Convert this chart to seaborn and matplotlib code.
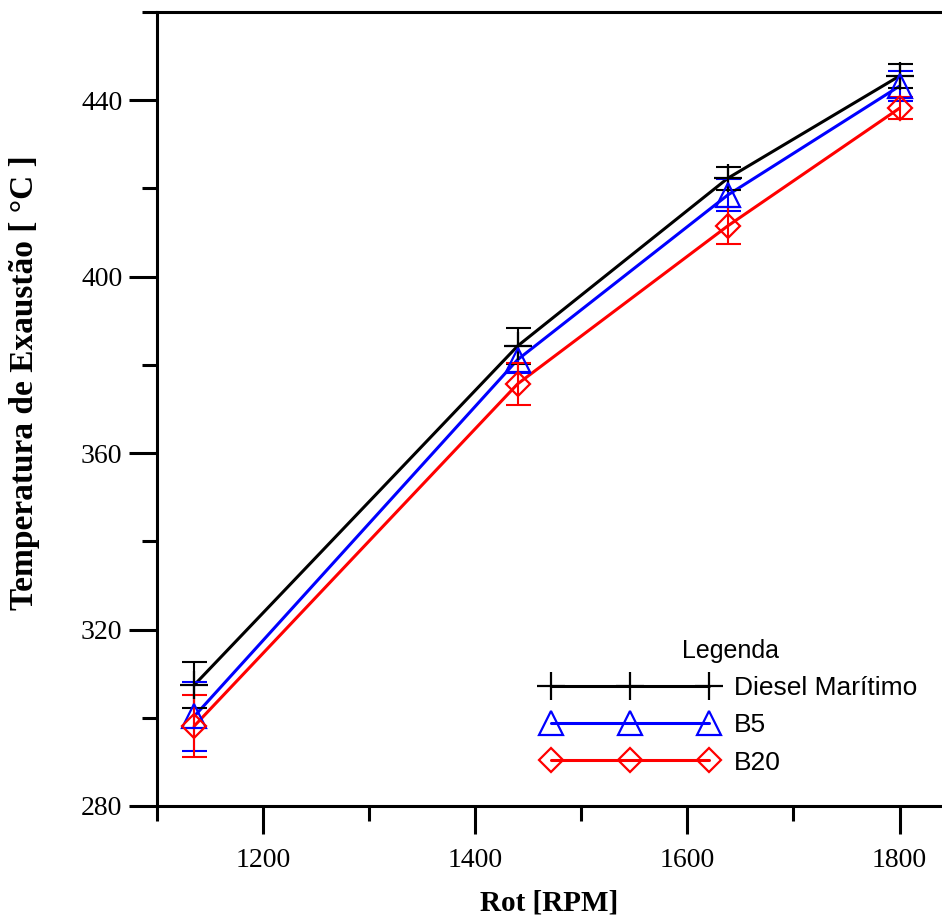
import matplotlib
matplotlib.use("Agg")
import numpy as np
import pandas as pd
import matplotlib.pyplot as plt
import seaborn as sns
from matplotlib.lines import Line2D
from matplotlib.ticker import MultipleLocator

# values
rpm = [1135, 1440, 1638, 1800]
series_names = ["Diesel Marítimo", "B5", "B20"]
diesel_temp = [307.4, 384.3, 422.3, 445.5]
diesel_err = [5.2, 4.0, 2.6, 2.8]
b5_temp = [300.3, 381.2, 418.5, 443.2]
b5_err = [7.8, 3.0, 3.7, 3.4]
b20_temp = [298.1, 375.7, 411.5, 438.2]
b20_err = [7.1, 4.7, 4.2, 2.5]

colors = ["black", "blue", "red"]
markers = ["+", "^", "D"]
marker_sizes = [20, 17, 12.5]

df = pd.DataFrame({
    "rpm": rpm * 3,
    "temp": diesel_temp + b5_temp + b20_temp,
    "err": diesel_err + b5_err + b20_err,
    "fuel": [name for name in series_names for _ in rpm],
})

sns.set_style("ticks")
plt.rcParams["font.family"] = ["Liberation Serif", "DejaVu Serif"]
plt.rcParams["text.color"] = "black"
plt.rcParams["axes.labelcolor"] = "black"
plt.rcParams["xtick.color"] = "black"
plt.rcParams["ytick.color"] = "black"

fig = plt.figure(figsize=(9.42, 9.24), dpi=100)
ax = fig.add_axes([157 / 942, 1 - 806 / 924, 1 - 157 / 942, (806 - 12) / 924])

sns.lineplot(
    data=df,
    x="rpm",
    y="temp",
    hue="fuel",
    hue_order=series_names,
    palette=colors,
    linewidth=2.2,
    legend=False,
    ax=ax,
)

for name, color, marker, ms in zip(series_names, colors, markers, marker_sizes):
    sub = df[df["fuel"] == name]
    ax.errorbar(
        sub["rpm"], sub["temp"], yerr=sub["err"],
        fmt="none", ecolor=color, elinewidth=1.5,
        capsize=9, capthick=1.5, zorder=3,
    )
    ax.plot(
        sub["rpm"], sub["temp"], linestyle="none",
        marker=marker, markersize=ms, markerfacecolor="none",
        markeredgecolor=color, markeredgewidth=1.6, zorder=4,
    )

ax.set_xlim(1100, 1840)
ax.set_ylim(280, 460)
ax.xaxis.set_major_locator(MultipleLocator(200))
ax.xaxis.set_minor_locator(MultipleLocator(100))
ax.yaxis.set_major_locator(MultipleLocator(40))
ax.yaxis.set_minor_locator(MultipleLocator(20))

ax.tick_params(axis="both", which="major", direction="out", length=20,
               width=2.2, labelsize=20, colors="black")
ax.tick_params(axis="x", which="major", pad=10)
ax.tick_params(axis="y", which="major", pad=5)
ax.tick_params(axis="both", which="minor", direction="out", length=11, width=2.2)

for side in ["left", "bottom", "top"]:
    ax.spines[side].set_linewidth(2.2)
    ax.spines[side].set_color("black")
ax.spines["right"].set_visible(False)

ax.set_xlabel("Rot [RPM]", fontsize=21, fontweight="bold", labelpad=12)
ax.set_ylabel("Temperatura de Exaustão [ °C ]", fontsize=24, fontweight="bold")
ax.yaxis.set_label_coords(-0.149, 0.533)

handles = [
    Line2D([], [], color=c, linewidth=2.2, marker=m, markersize=ms,
           markerfacecolor="none", markeredgewidth=1.6)
    for c, m, ms in zip(colors, markers, marker_sizes)
]
leg = ax.legend(
    handles, series_names, title="Legenda",
    loc="upper left", bbox_to_anchor=(543 / 942, 1 - 639 / 924),
    bbox_transform=fig.transFigure, frameon=False,
    numpoints=3, handlelength=6.6, handletextpad=0.65,
    labelspacing=0.5, borderpad=0, borderaxespad=0,
    prop={"family": "Liberation Sans", "size": 19},
    title_fontproperties={"family": "Liberation Sans", "size": 18},
    labelcolor="black",
)
leg.get_title().set_color("black")

fig.savefig("out.png", dpi=100)
